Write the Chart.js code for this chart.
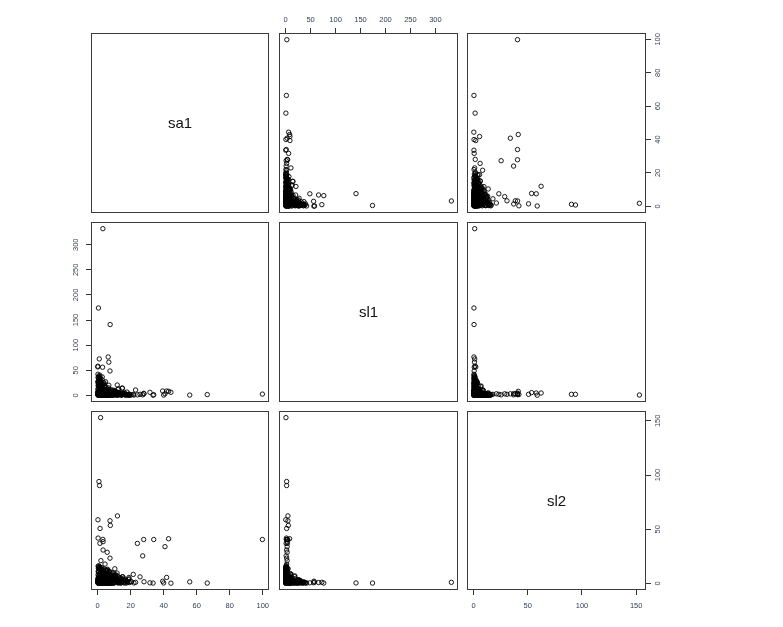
<!DOCTYPE html>
<html><head><meta charset="utf-8">
<script src="https://cdn.jsdelivr.net/npm/chart.js@4.4.0/dist/chart.umd.min.js"></script>
<style>
html,body{margin:0;padding:0;background:#fff;width:783px;height:627px;overflow:hidden}
canvas{position:absolute;left:0;top:0}
</style></head><body>
<div id="wrap"></div>
<script>
// ---- data (one observation per index) ----
const varNames = ['sa1', 'sl1', 'sl2'];

const sa1 = [
  // outlying observations
  99.8,66.4,55.8,44.4,43.0,40.8,41.8,40.0,39.4,34.0,27.9,27.3,24.1,33.6,31.7,25.7,23.0,28.1,12.0,7.7,
  7.5,1.5,0.2,1.2,0.8,1.8,0.3,3.2,3.3,3.3,5.8,7.5,2.0,4.5,3.2,0.5,7.6,1.0,6.4,6.8,
  7.5,0.2,3.0,2.8,0.1,4.8,6.8,15.0,11.9,14.9,21.6,19.0,10.4,1.4,
  // dense core
  0.5,1.2,2.0,3.1,4.0,5.2,6.1,7.0,0.8,1.5,2.6,3.8,4.7,5.9,6.8,7.6,0.2,1.0,1.9,2.8,
  3.5,4.4,5.5,6.5,7.3,0.6,1.4,2.3,3.3,4.2,5.0,6.0,7.8,0.3,1.1,2.1,2.9,3.9,4.9,5.7,
  6.6,0.9,1.7,2.5,3.6,4.5,5.4,6.3,7.1,0.1,1.3,2.2,3.0,4.1,5.1,6.2,0.4,1.6,2.7,3.4,
  // larger sa1
  8.2,8.9,9.5,10.1,10.8,11.4,12.0,12.7,13.3,14.0,14.6,15.3,16.0,16.8,17.5,18.2,19.0,19.8,8.5,9.2,
  10.5,11.8,13.0,14.3,15.8,17.0,9.8,12.3,20.5,22.0,
  // larger sl1
  1.0,4.5,2.2,6.0,0.4,3.5,1.6,5.2,0.8,2.9,4.1,0.3,1.9,3.3,0.6,2.4,1.2,3.8,0.2,2.0,
  1.5,0.5,2.7,0.9,1.8,0.3,1.1,0.6,1.4,0.2,
  // larger sl2
  2.0,6.5,0.8,4.2,7.5,1.5,3.6,5.8,0.4,2.8,6.0,1.2,3.9,0.6,2.3,1.0,0.3,8.5,5.0,2.5,
  7.2,0.9,4.5,1.8,3.0,9.5,0.5,5.5,1.5,0.7,
  // mixed
  5.5,6.8,8.0,9.4,10.6,12.1,13.5,4.6,7.2,11.0,14.8,16.2,3.0,8.8,10.0,6.0,12.8,15.0,17.8,18.8,
  // more core
  0.3,1.7,2.4,0.9,3.6,5.1,2.2,7.8,9.6,11.2,1.1,4.3,6.2,13.1,15.6,0.6,2.9,8.3,10.2,12.6,
  3.1,0.2,5.6,7.1,14.2,16.5,1.9,4.8,9.1,18.1,0.5,2.6,6.7,11.9,3.3,1.4,8.7,5.3,13.8,0.8,
  2.1,4.0,6.9,10.9,17.2,1.2,3.8,7.4,12.2,19.2,
  // sl1 tail
  2.6,0.9,3.4,1.7,4.9,0.6,2.8,1.3,0.4,1.0,8.9,6.3,5.4,2.1,3.0,1.2,0.7,2.3,0.9,0.5,
  11.5,7.3,4.2,6.6,1.4,3.7,0.3,1.6,9.8,5.1,
  // extra core
  0.7,2.3,4.6,1.1,3.2,6.4,0.4,5.3,8.1,1.9,2.8,0.2,7.0,3.9,1.5,9.2,0.9,4.2,2.0,5.9,
  1.3,3.5,0.6,6.8,2.5,8.6,0.3,4.8,1.7,3.0,7.7,0.8,5.6,2.2,9.9,1.0,3.7,0.5,6.1,2.7
];

const sl1 = [
  2.4,1.5,0.5,6.0,8.0,3.0,8.5,0.5,8.6,1.3,4.0,1.0,1.0,0.2,6.0,2.0,10.6,3.0,4.6,5.4,
  4.6,2.0,0.2,2.0,2.0,0.6,1.5,4.0,3.0,2.0,3.0,2.0,3.0,2.0,332,174,141,72.5,76.4,66,
  48.5,58,56,36.6,56.6,27,20,14,20.6,14.6,2.0,1.0,5.0,3.5,
  0.5,1.0,2.5,0.2,3.0,1.5,4.0,0.8,2.0,5.5,0.3,1.8,6.0,2.7,0.6,3.5,7.5,1.2,4.2,0.9,
  2.2,5.0,0.4,3.2,1.6,6.5,2.9,0.7,4.8,1.1,7.0,0.1,2.4,3.8,0.6,5.8,1.4,2.1,0.8,4.5,
  1.9,3.0,7.8,0.5,2.6,6.2,1.0,3.6,0.3,4.0,2.3,0.9,5.2,1.7,3.3,0.2,6.8,1.3,2.8,0.7,
  3.0,6.5,1.2,9.0,2.5,7.0,0.5,5.5,1.8,4.0,0.8,3.2,2.0,0.4,1.5,0.9,2.6,0.3,11.0,4.5,
  8.0,2.2,6.0,1.0,3.8,0.6,10.0,12.0,1.2,0.5,
  8.5,9.5,10.5,11.5,12.5,13.5,14.5,15.5,16.5,17.5,18.5,19.5,20.5,21.5,22.5,23.5,24.5,25.5,26.5,27.5,
  28.5,29.5,31.0,32.5,34.0,35.5,37.0,38.5,40.0,42.0,
  1.0,0.3,2.5,1.6,0.5,3.4,0.8,2.0,1.2,0.4,2.8,0.7,1.5,3.0,0.2,1.8,0.9,0.6,2.2,1.0,
  0.3,2.6,1.4,0.5,3.6,0.8,1.7,0.4,2.4,1.1,
  4.5,2.0,6.8,1.0,3.6,0.5,2.2,9.5,1.4,4.0,0.7,5.5,3.0,0.9,7.5,1.8,13.0,2.5,6.5,0.4,
  1.2,0.4,2.0,6.3,0.8,1.5,0.6,3.4,2.2,0.3,1.1,4.6,7.2,0.9,2.5,0.5,9.2,1.8,0.7,3.1,
  0.2,12.5,1.3,5.8,0.6,2.8,0.4,15.8,1.0,0.8,0.3,3.9,8.8,1.6,0.5,1.9,4.2,0.7,2.3,18.5,
  6.0,22.8,0.9,2.6,1.4,0.3,0.8,11.2,1.7,0.5,
  5.2,6.8,9.8,12.2,15.0,18.2,21.0,24.8,28.0,33.0,4.6,7.7,10.8,13.9,16.8,19.9,23.2,26.0,30.2,36.0,
  5.9,8.4,11.2,14.8,17.9,22.1,25.2,29.0,7.1,9.1,
  3.3,0.6,1.9,8.2,0.3,2.4,5.1,0.9,1.3,11.8,0.4,6.7,2.9,0.2,14.2,1.6,4.3,0.7,9.6,2.1,
  0.5,7.4,3.6,1.0,17.0,0.3,5.5,1.4,12.9,0.8,2.2,6.1,0.6,3.8,1.1,10.4,0.4,4.9,1.8,0.2
];

const sl2 = [
  40.5,0.3,1.4,0.2,41.2,33.9,5.5,0.4,2.0,40.5,40.5,25.4,36.9,0.3,0.5,6.0,1.0,1.5,62.3,53.5,
  57.8,50.7,58.7,90.3,94.0,153.0,41.8,40.6,38.5,30.8,28.7,23.3,21.0,17.8,1.0,0.3,0.4,1.0,0.3,0.8,
  0.5,1.2,0.6,1.0,2.0,3.0,2.0,1.5,2.5,1.0,8.3,5.5,13.5,37.0,
  0.3,2.1,0.8,4.0,1.2,0.5,2.8,5.5,1.5,0.2,3.2,0.9,1.8,4.6,0.4,2.4,1.0,5.8,0.6,3.6,
  1.4,0.3,2.6,0.8,4.2,1.7,0.5,3.0,1.1,5.2,0.7,2.2,0.2,3.8,1.3,0.6,4.8,1.9,2.9,0.4,
  5.0,1.6,0.9,3.4,0.1,2.0,4.4,1.0,0.7,3.1,1.8,5.6,0.5,2.5,0.3,4.1,1.2,2.7,0.6,3.9,
  1.0,4.5,2.2,0.6,7.0,1.8,3.5,0.4,5.2,2.8,1.2,6.0,0.5,3.8,2.0,0.9,4.2,1.5,8.5,0.3,
  3.0,9.5,1.4,4.8,0.7,2.5,6.8,0.8,1.6,0.4,
  0.5,1.8,3.0,0.3,2.2,1.0,3.6,0.6,1.4,2.8,0.2,1.7,0.9,2.4,0.4,1.2,3.2,0.7,1.9,0.3,
  1.0,2.6,0.5,1.5,0.2,0.8,1.3,0.4,0.6,0.3,
  6.2,6.8,7.4,8.0,8.6,9.2,9.8,10.4,11.0,11.6,12.2,12.8,13.4,14.0,14.6,15.2,15.8,6.5,7.7,8.9,
  10.1,11.3,12.5,13.7,7.1,9.5,10.7,12.0,14.3,16.3,
  5.8,8.2,6.5,7.4,5.2,6.8,4.6,9.0,11.2,8.0,3.8,2.6,12.5,9.8,3.2,13.0,2.8,6.2,1.8,3.4,
  2.5,7.2,11.8,4.3,1.1,9.0,13.2,3.6,0.8,5.4,14.8,6.1,2.2,1.0,3.9,10.5,8.4,0.5,6.6,2.7,
  12.1,4.9,7.7,1.6,0.4,2.3,9.6,0.9,4.1,1.3,13.9,5.7,3.3,0.6,10.8,8.8,2.0,11.3,0.3,6.9,
  1.5,3.1,5.0,7.0,0.2,15.1,9.9,4.5,2.9,0.7,
  1.4,3.8,0.6,2.2,0.9,4.4,1.7,0.3,2.6,0.8,0.4,1.9,5.1,0.7,2.9,1.1,0.5,3.4,1.0,0.6,
  2.1,0.3,1.6,0.9,6.2,0.5,1.3,0.8,0.2,2.4,
  1.9,0.4,3.3,0.8,5.0,1.2,2.6,0.3,4.0,0.6,7.4,1.6,0.2,2.9,0.9,3.7,0.5,6.3,1.1,2.0,
  9.0,0.7,4.6,1.4,0.3,2.4,7.9,0.6,1.8,11.1,0.4,3.1,1.0,5.5,0.8,0.2,8.2,2.2,0.5,3.6
];

const sa1Ticks = [0, 20, 40, 60, 80, 100];
const sl1Ticks = [0, 50, 100, 150, 200, 250, 300];
const sl2Ticks = [0, 50, 100, 150];

// ---- layout ----
const W = 783, H = 627;
const colX = [[91, 269], [279, 458], [467, 646]];
const rowY = [[33, 213], [222, 402], [411, 590]];
const AXIS = 30; // space reserved for a visible axis
const vars = [sa1, sl1, sl2];
const ranges = [[-4, 103.8], [-13.3, 345.3], [-6.1, 159.1]];
const tickSets = [sa1Ticks, sl1Ticks, sl2Ticks];
const FONT = '"Liberation Sans", Arial, sans-serif';
const TICKCOL = '#343d55';

const boxPlugin = {
  id: 'box',
  afterDraw(chart) {
    const a = chart.chartArea, ctx = chart.ctx;
    ctx.save();
    ctx.strokeStyle = '#3c3c3c';
    ctx.lineWidth = 1;
    ctx.strokeRect(Math.round(a.left) + 0.5, Math.round(a.top) + 0.5,
                   Math.round(a.right - a.left) - 1, Math.round(a.bottom - a.top) - 1);
    ctx.restore();
  }
};
const diagPlugin = {
  id: 'diag',
  afterDraw(chart, args, opts) {
    if (!opts || !opts.text) return;
    const a = chart.chartArea, ctx = chart.ctx;
    ctx.save();
    ctx.fillStyle = '#111';
    ctx.font = '15px ' + FONT;
    ctx.textAlign = 'center';
    ctx.textBaseline = 'middle';
    ctx.fillText(opts.text, (a.left + a.right) / 2, (a.top + a.bottom) / 2 + 1);
    ctx.restore();
  }
};

function axisCfg(v, pos, show, isY, pad) {
  return {
    type: 'linear', position: pos, display: show,
    min: ranges[v][0], max: ranges[v][1],
    afterBuildTicks: s => { s.ticks = tickSets[v].map(t => ({ value: t })); },
    afterFit: s => { if (isY) s.width = show ? AXIS : 0; else s.height = show ? AXIS : 0; },
    grid: { display: true, drawOnChartArea: false, drawTicks: true, tickLength: 5,
            tickColor: '#333', lineWidth: 1 },
    border: { display: false },
    ticks: {
      display: true, autoSkip: false, padding: pad, color: TICKCOL,
      font: { family: FONT, size: 7.5 },
      minRotation: isY ? 90 : 0, maxRotation: isY ? 90 : 0,
      crossAlign: isY ? 'center' : 'near',
      callback: val => String(val)
    }
  };
}

const wrap = document.getElementById('wrap');
for (let r = 0; r < 3; r++) {
  for (let c = 0; c < 3; c++) {
    const cv = document.createElement('canvas');
    cv.width = W; cv.height = H;
    cv.style.width = W + 'px'; cv.style.height = H + 'px';
    wrap.appendChild(cv);

    // axes shown on the outer panels, alternating like R's pairs()
    let xPos = 'bottom', xShow = false, yPos = 'left', yShow = false;
    if (r === 2 && (c === 0 || c === 2)) { xPos = 'bottom'; xShow = true; }
    if (r === 0 && c === 1) { xPos = 'top'; xShow = true; }
    if (c === 2 && (r === 0 || r === 2)) { yPos = 'right'; yShow = true; }
    if (c === 0 && r === 1) { yPos = 'left'; yShow = true; }

    const pad = {
      left: colX[c][0] - (yShow && yPos === 'left' ? AXIS : 0),
      right: W - colX[c][1] - (yShow && yPos === 'right' ? AXIS : 0),
      top: rowY[r][0] - (xShow && xPos === 'top' ? AXIS : 0),
      bottom: H - rowY[r][1] - (xShow && xPos === 'bottom' ? AXIS : 0)
    };

    const xPad = xPos === 'top' ? 4 : 6;
    const yPad = yPos === 'left' ? 4 : 1;
    const diag = r === c;
    const data = diag ? [] : vars[c].map((xv, i) => ({ x: xv, y: vars[r][i] }));

    new Chart(cv, {
      type: 'scatter',
      data: {
        datasets: diag ? [] : [{
          data: data,
          pointStyle: 'circle',
          pointRadius: 2.2,
          borderWidth: 0.9,
          borderColor: '#000',
          backgroundColor: 'rgba(0,0,0,0)'
        }]
      },
      options: {
        responsive: false, animation: false, devicePixelRatio: 1, events: [],
        layout: { padding: pad },
        scales: {
          x: axisCfg(c, xPos, xShow, false, xPad),
          y: axisCfg(r, yPos, yShow, true, yPad)
        },
        plugins: {
          legend: { display: false }, tooltip: { enabled: false },
          diag: { text: diag ? varNames[r] : '' }
        }
      },
      plugins: [boxPlugin, diagPlugin]
    });
  }
}
</script>
</body></html>
